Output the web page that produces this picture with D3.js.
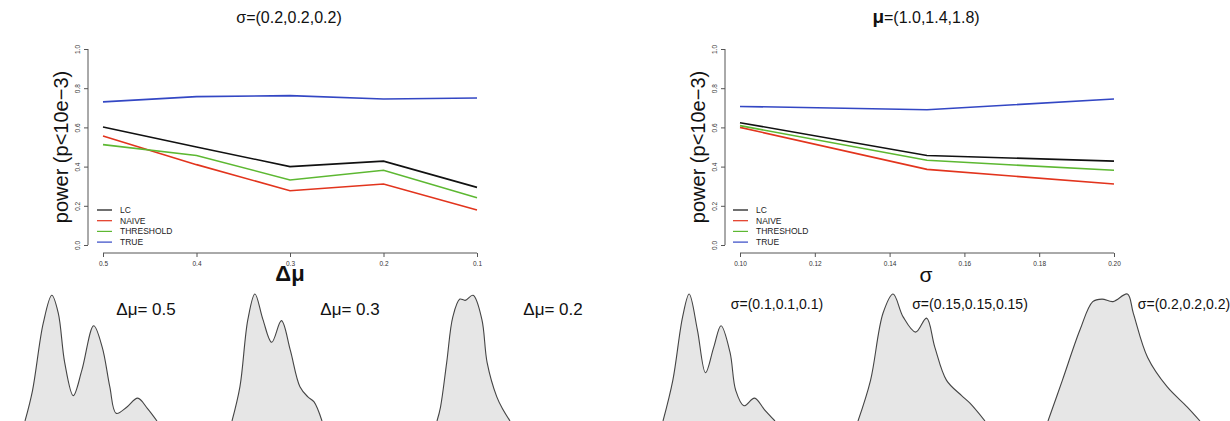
<!DOCTYPE html>
<html><head><meta charset="utf-8">
<script src="https://cdn.jsdelivr.net/npm/d3@7"></script>
<style>body{margin:0;background:#fff}svg{display:block}text{font-family:"Liberation Sans",Arial,sans-serif}</style>
</head><body>
<script>
// ---------- data ----------
const seriesNames = ["LC","NAIVE","THRESHOLD","TRUE"];
const seriesColors = ["#111111","#e2341d","#5db832","#3347c4"];
const deltaMu = [0.5,0.4,0.3,0.2,0.1];
const leftLC        = [0.602,0.500,0.400,0.428,0.294];
const leftNAIVE     = [0.556,0.410,0.277,0.311,0.179];
const leftTHRESHOLD = [0.512,0.457,0.332,0.381,0.241];
const leftTRUE      = [0.730,0.757,0.762,0.745,0.750];
const sigmaVals = [0.10,0.15,0.20];
const rightLC        = [0.624,0.457,0.428];
const rightNAIVE     = [0.600,0.386,0.311];
const rightTHRESHOLD = [0.609,0.432,0.381];
const rightTRUE      = [0.707,0.690,0.745];
const leftXTicks = [0.5,0.4,0.3,0.2,0.1];
const rightXTicks = [0.10,0.12,0.14,0.16,0.18,0.20];
const yTicks = [0,0.2,0.4,0.6,0.8,1.0];
// densities (value, relative height)
const dens1X = [0.75,0.82,0.92,1.00,1.06,1.12,1.20,1.28,1.39,1.47,1.54,1.60,1.70,1.80,1.89,1.98];
const dens1Y = [0,0.24,0.77,0.99,0.85,0.46,0.20,0.40,0.75,0.58,0.27,0.06,0.11,0.18,0.10,0];
const dens2X = [0.74,0.83,0.92,1.00,1.09,1.19,1.30,1.40,1.51,1.60,1.67,1.76];
const dens2Y = [0,0.27,0.80,1.00,0.80,0.62,0.79,0.56,0.27,0.19,0.15,0];
const dens3X = [0.87,0.91,0.98,1.05,1.13,1.19,1.28,1.38,1.44,1.55,1.62,1.70];
const dens3Y = [0,0.11,0.46,0.82,0.96,0.95,0.99,0.80,0.46,0.19,0.09,0];
const dens4X = [0.68,0.80,0.92,1.00,1.10,1.20,1.30,1.39,1.50,1.57,1.67,1.80,1.92,2.05];
const dens4Y = [0,0.32,0.82,1.00,0.72,0.38,0.58,0.75,0.54,0.24,0.12,0.18,0.09,0];
const dens5X = [0.58,0.73,0.88,1.00,1.12,1.27,1.40,1.50,1.64,1.82,1.92,2.10];
const dens5Y = [0,0.32,0.85,1.00,0.82,0.70,0.81,0.58,0.32,0.20,0.14,0];
const dens6X = [0.63,0.80,1.01,1.16,1.27,1.40,1.57,1.64,1.81,2.04,2.28,2.43];
const dens6Y = [0,0.32,0.72,0.94,0.96,0.94,1.00,0.85,0.50,0.27,0.11,0];
const densLabels = ["Δμ= 0.5","Δμ= 0.3","Δμ= 0.2","σ=(0.1,0.1,0.1)","σ=(0.15,0.15,0.15)","σ=(0.2,0.2,0.2)"];

// ---------- drawing ----------
const W=1230,H=421;
const svg=d3.select("body").append("svg").attr("width",W).attr("height",H);
const axisCol="#555";

function panel(cfg){
  const g=svg.append("g");
  const x=d3.scaleLinear().domain(cfg.xDomain).range(cfg.xRange);
  const y=d3.scaleLinear().domain([0,1]).range([245,49]);
  // y axis
  const ya=g.append("g").attr("transform",`translate(${cfg.yAxisX},0)`);
  ya.call(d3.axisLeft(y).tickValues(yTicks).tickSize(4).tickFormat(d3.format(".1f")));
  ya.select(".domain").attr("d",`M0,${y(0)}V${y(1)}`);
  ya.selectAll("line,path").attr("stroke",axisCol);
  ya.selectAll("text").attr("font-size",6.5).attr("fill","#333")
    .attr("x",0).attr("dy",null).attr("y",0)
    .attr("transform","translate(-8,0) rotate(-90)")
    .attr("text-anchor","middle");
  // x axis
  const xa=g.append("g").attr("transform","translate(0,253)");
  xa.call(d3.axisBottom(x).tickValues(cfg.xTicks).tickSize(4).tickFormat(d3.format(cfg.fmt)));
  xa.select(".domain").attr("d",`M${x(cfg.xDomain[0])},0H${x(cfg.xDomain[1])}`);
  xa.selectAll("line,path").attr("stroke",axisCol);
  xa.selectAll("text").attr("font-size",6.5).attr("fill","#333").attr("y",8);
  // lines
  const line=d3.line().x(d=>x(d[0])).y(d=>y(d[1]));
  cfg.series.forEach((s,i)=>{
    g.append("path").datum(cfg.xs.map((v,j)=>[v,s[j]]))
     .attr("d",line).attr("fill","none").attr("stroke",seriesColors[i]).attr("stroke-width",1.6);
  });
  // legend
  seriesNames.forEach((n,i)=>{
    const ly=210+i*10.7;
    g.append("line").attr("x1",cfg.legX).attr("x2",cfg.legX+15).attr("y1",ly).attr("y2",ly)
      .attr("stroke",seriesColors[i]).attr("stroke-width",1.2);
    g.append("text").attr("x",cfg.legX+23).attr("y",ly).attr("dy","0.35em")
      .attr("font-size",8.5).attr("fill","#222").text(n);
  });
  // y label
  g.append("text").attr("transform",`translate(${cfg.yLabX},147) rotate(-90)`)
    .attr("text-anchor","middle").attr("font-size",20).attr("fill","#111").text("power (p<10e−3)");
  return {x,y};
}

panel({xDomain:[0.5,0.1],xRange:[103,477],xTicks:leftXTicks,fmt:".1f",yAxisX:88,
  xs:deltaMu,series:[leftLC,leftNAIVE,leftTHRESHOLD,leftTRUE],legX:97,yLabX:68});
panel({xDomain:[0.10,0.20],xRange:[740,1114],xTicks:rightXTicks,fmt:".2f",yAxisX:725,
  xs:sigmaVals,series:[rightLC,rightNAIVE,rightTHRESHOLD,rightTRUE],legX:733,yLabX:705});

// titles
svg.append("text").attr("x",289).attr("y",23).attr("text-anchor","middle").attr("font-size",16).attr("fill","#111").text("σ=(0.2,0.2,0.2)");
const t2=svg.append("text").attr("x",926).attr("y",23).attr("text-anchor","middle").attr("font-size",16).attr("fill","#111");
t2.append("tspan").attr("font-weight","bold").attr("font-size",19).text("μ");
t2.append("tspan").text("=(1.0,1.4,1.8)");
// x labels
svg.append("text").attr("x",290).attr("y",281).attr("text-anchor","middle").attr("font-size",22).attr("font-weight","bold").attr("fill","#111").text("Δμ");
svg.append("text").attr("x",926).attr("y",282).attr("text-anchor","middle").attr("font-size",21).attr("font-family","DejaVu Serif").attr("fill","#111").text("σ");

// densities
const densX=[dens1X,dens2X,dens3X,dens4X,dens5X,dens6X];
const densY=[dens1Y,dens2Y,dens3Y,dens4Y,dens5Y,dens6Y];
const densRanges=[[25,157],[232,322],[437,510],[663,775],[858,985],[1048,1200]];
const hy=d3.scaleLinear().domain([0,1]).range([421,294]);
densX.forEach((xs,k)=>{
  const sx=d3.scaleLinear().domain([xs[0],xs[xs.length-1]]).range(densRanges[k]);
  const pts=xs.map((v,j)=>[v,densY[k][j]]);
  const cv=d3.curveCatmullRom.alpha(0.5);
  const area=d3.area().x(d=>sx(d[0])).y0(hy(0)+2).y1(d=>hy(d[1])).curve(cv);
  const ln=d3.line().x(d=>sx(d[0])).y(d=>hy(d[1])).curve(cv);
  svg.append("path").datum(pts).attr("d",area).attr("fill","#e6e6e6");
  svg.append("path").datum(pts).attr("d",ln).attr("fill","none").attr("stroke","#444").attr("stroke-width",1.1);
});
const labPos=[[146,315,17],[350,315,17],[553,315,17],[777,309,14],[970,309,14],[1184,309,14]];
densLabels.forEach((t,i)=>{
  svg.append("text").attr("x",labPos[i][0]).attr("y",labPos[i][1]).attr("text-anchor","middle")
    .attr("font-size",labPos[i][2]).attr("fill","#111").text(t);
});
</script>
</body></html>
